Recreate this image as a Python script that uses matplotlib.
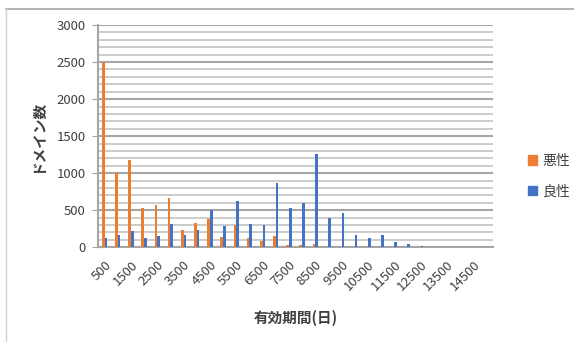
import matplotlib.pyplot as plt
from matplotlib.lines import Line2D
from matplotlib.patches import Patch
import numpy as np

plt.rcParams['font.family'] = ['Noto Sans CJK JP', 'DejaVu Sans']

# 有効期間 (日) の区分: 500 刻み
days = list(range(500, 15001, 500))

malicious = [2500, 1000, 1180, 530, 567, 666, 238, 324, 378, 143,
             301, 126, 89, 157, 35, 31, 40, 6, 4, 0,
             0, 0, 0, 0, 0, 0, 0, 0, 0, 0]
benign = [130, 170, 220, 126, 157, 319, 170, 229, 504, 288,
          630, 319, 297, 873, 531, 600, 1260, 396, 463, 166,
          126, 162, 68, 45, 18, 0, 0, 0, 0, 0]

orange = '#ED7D31'
blue = '#4472C4'
text_col = '#404040'

fig = plt.figure(figsize=(5.74, 3.42), dpi=100)
ax = fig.add_axes([98 / 574, 1 - 247.3 / 342, 395 / 574, 222.3 / 342])

x = np.arange(len(days))
w = 0.2
ax.bar(x - 0.1, malicious, width=w, color=orange, zorder=3)
ax.bar(x + 0.1, benign, width=w, color=blue, zorder=3)

ax.set_xlim(-0.5, len(days) - 0.5)
ax.set_ylim(0, 3000)

ax.set_yticks(range(0, 3001, 500))
ax.set_yticks(range(0, 3001, 100), minor=True)
ax.grid(axis='y', which='minor', color='#C8C8C8', linewidth=1.3, zorder=0)
ax.grid(axis='y', which='major', color='#A6A6A6', linewidth=1.5, zorder=1)

ax.set_xticks(x[::2])
ax.set_xticklabels([str(d) for d in days[::2]], rotation=45, ha='right',
                   va='top', rotation_mode='anchor', fontsize=9.5, color=text_col)
ax.tick_params(axis='x', length=0, pad=8)
ax.tick_params(axis='y', which='major', length=4, color='#A6A6A6', labelsize=9.5,
               labelcolor=text_col, pad=5)
ax.tick_params(axis='y', which='minor', length=0)

for s in ['top', 'right']:
    ax.spines[s].set_visible(False)
for s in ['left', 'bottom']:
    ax.spines[s].set_color('#A6A6A6')
    ax.spines[s].set_linewidth(1.5)

ax.set_ylabel('ドメイン数', fontsize=10.5, fontweight='bold', color=text_col, labelpad=8)
ax.set_xlabel('有効期間(日)', fontsize=10.5, fontweight='bold', color=text_col, labelpad=12)

handles = [Patch(color=orange, label='悪性'), Patch(color=blue, label='良性')]
fig.legend(handles=handles, loc='center left', bbox_to_anchor=(515 / 574, 1 - 176 / 342),
           frameon=False, fontsize=10, handlelength=0.7, handleheight=0.7,
           handletextpad=0.4, labelspacing=1.2, labelcolor=text_col)

# グラフ領域の枠 (上と左のみ見えている)
fig.add_artist(Line2D([6 / 574, 1], [1 - 9 / 342, 1 - 9 / 342], color='#A6A6A6',
                      linewidth=1.2, transform=fig.transFigure))
fig.add_artist(Line2D([6 / 574, 6 / 574], [0, 1 - 9 / 342], color='#D0D0D0',
                      linewidth=1.0, transform=fig.transFigure))

fig.savefig('out.png', dpi=100)
